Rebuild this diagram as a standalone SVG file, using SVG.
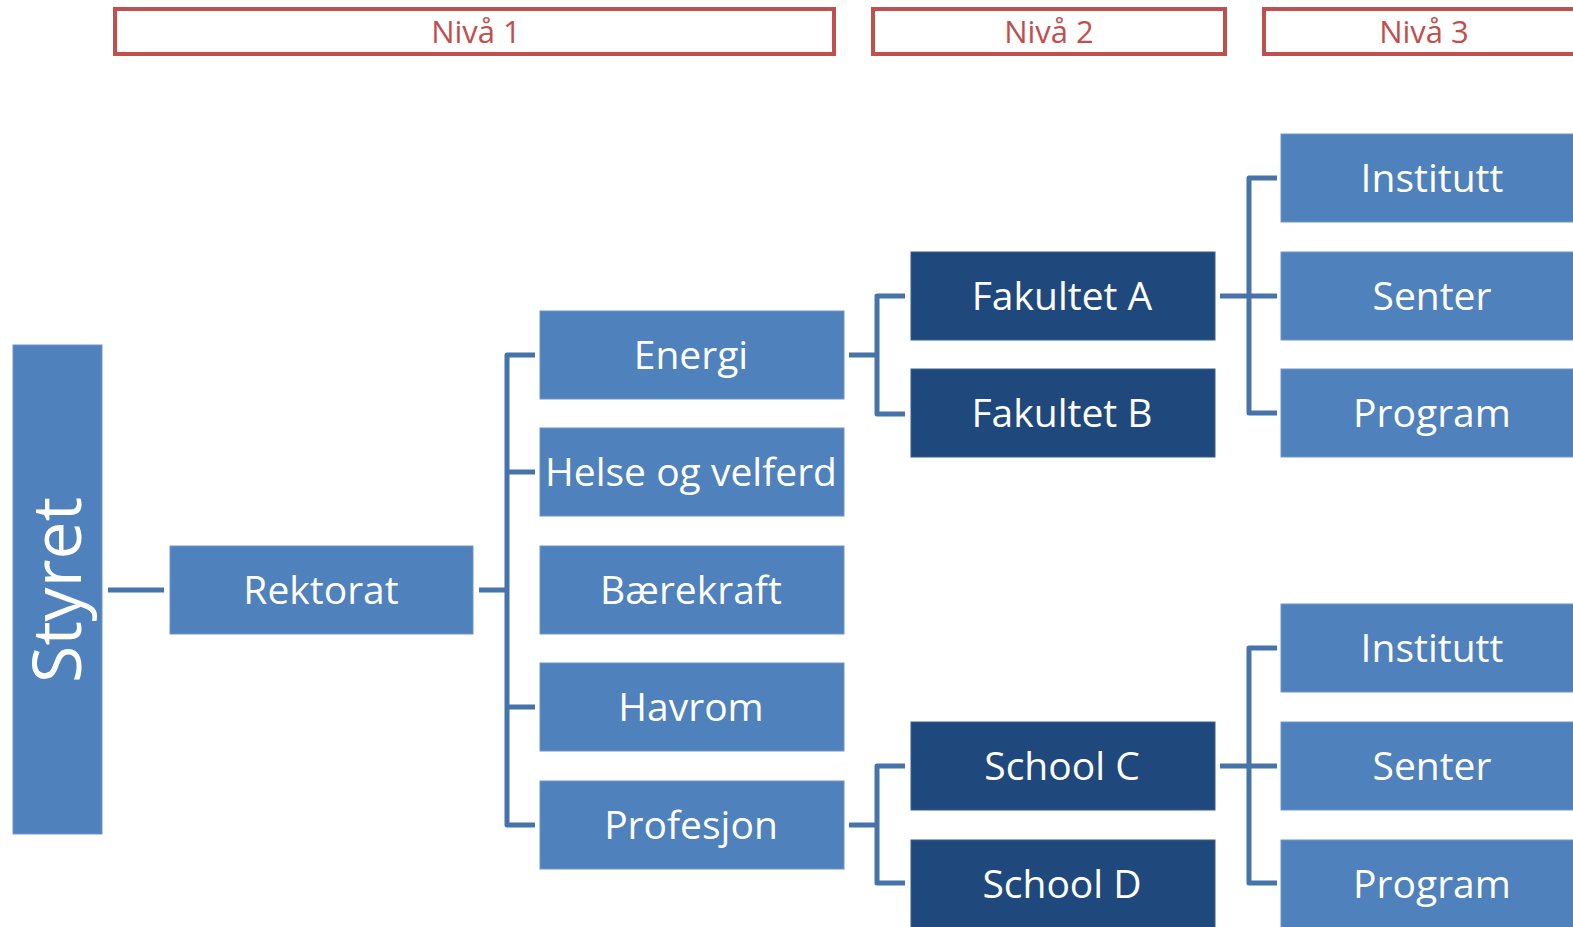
<svg xmlns="http://www.w3.org/2000/svg" width="1573" height="927" viewBox="0 0 1573 927">
<style>
.hdr{fill:#fff;stroke:#C0504D;stroke-width:4}
.htx{fill:#C0504D;font-family:"Open Sans","Liberation Sans",sans-serif;font-size:31px;text-anchor:middle}
.mid{fill:#4F81BD;stroke:#6F95C8;stroke-width:1}
.dark{fill:#1F497D;stroke:#3A5F90;stroke-width:1}
.tx{fill:#fff;font-family:"Open Sans","Liberation Sans",sans-serif;font-size:39px;text-anchor:middle}
.con{fill:none;stroke:#4674AA;stroke-width:5;stroke-linejoin:round}
</style>
<rect width="1573" height="927" fill="#fff"/>
<g id="headers">
<g id="niva1"><rect class="hdr" x="115" y="9" width="719" height="45"/><text class="htx" x="476" y="43">Nivå 1</text></g>
<g id="niva2"><rect class="hdr" x="873" y="9" width="352" height="45"/><text class="htx" x="1049" y="43">Nivå 2</text></g>
<g id="niva3"><rect class="hdr" x="1264" y="9" width="330" height="45"/><text class="htx" x="1424" y="43">Nivå 3</text></g>
</g>
<g id="connectors">
<path class="con" d="M108 590 H164" stroke="#3C6496"/>
<path class="con" d="M479 590 H507 M535 355 H507 V825 H535 M507 472 H535 M507 707 H535"/>
<path class="con" d="M849 355 H877 M905 296 H877 V414 H905"/>
<path class="con" d="M849 825 H877 M905 766 H877 V883 H905"/>
<path class="con" d="M1220 296 H1277 M1277 178 H1249 V413 H1277"/>
<path class="con" d="M1220 766 H1277 M1277 648 H1249 V883 H1277"/>
</g>
<g id="styret"><rect class="mid" x="13" y="345" width="89" height="489"/><text class="tx" style="font-size:68px" transform="translate(57,590) rotate(-90)" x="0" y="24">Styret</text></g>
<g id="rektorat"><rect class="mid" x="170" y="546" width="303" height="88"/><text class="tx" x="321" y="604">Rektorat</text></g>
<g id="energi"><rect class="mid" x="540" y="311" width="304" height="88"/><text class="tx" x="691" y="369">Energi</text></g>
<g id="helse"><rect class="mid" x="540" y="428" width="304" height="88"/><text class="tx" x="691" y="486">Helse og velferd</text></g>
<g id="baerekraft"><rect class="mid" x="540" y="546" width="304" height="88"/><text class="tx" x="691" y="604">Bærekraft</text></g>
<g id="havrom"><rect class="mid" x="540" y="663" width="304" height="88"/><text class="tx" x="691" y="721">Havrom</text></g>
<g id="profesjon"><rect class="mid" x="540" y="781" width="304" height="88"/><text class="tx" x="691" y="839">Profesjon</text></g>
<g id="fakA"><rect class="dark" x="911" y="252" width="304" height="88"/><text class="tx" x="1062" y="310">Fakultet A</text></g>
<g id="fakB"><rect class="dark" x="911" y="369" width="304" height="88"/><text class="tx" x="1062" y="427">Fakultet B</text></g>
<g id="schoolC"><rect class="dark" x="911" y="722" width="304" height="88"/><text class="tx" x="1062" y="780">School C</text></g>
<g id="schoolD"><rect class="dark" x="911" y="840" width="304" height="88"/><text class="tx" x="1062" y="898">School D</text></g>
<g id="institutt1"><rect class="mid" x="1281" y="134" width="304" height="88"/><text class="tx" x="1432" y="192">Institutt</text></g>
<g id="senter1"><rect class="mid" x="1281" y="252" width="304" height="88"/><text class="tx" x="1432" y="310">Senter</text></g>
<g id="program1"><rect class="mid" x="1281" y="369" width="304" height="88"/><text class="tx" x="1432" y="427">Program</text></g>
<g id="institutt2"><rect class="mid" x="1281" y="604" width="304" height="88"/><text class="tx" x="1432" y="662">Institutt</text></g>
<g id="senter2"><rect class="mid" x="1281" y="722" width="304" height="88"/><text class="tx" x="1432" y="780">Senter</text></g>
<g id="program2"><rect class="mid" x="1281" y="840" width="304" height="88"/><text class="tx" x="1432" y="898">Program</text></g>
</svg>
